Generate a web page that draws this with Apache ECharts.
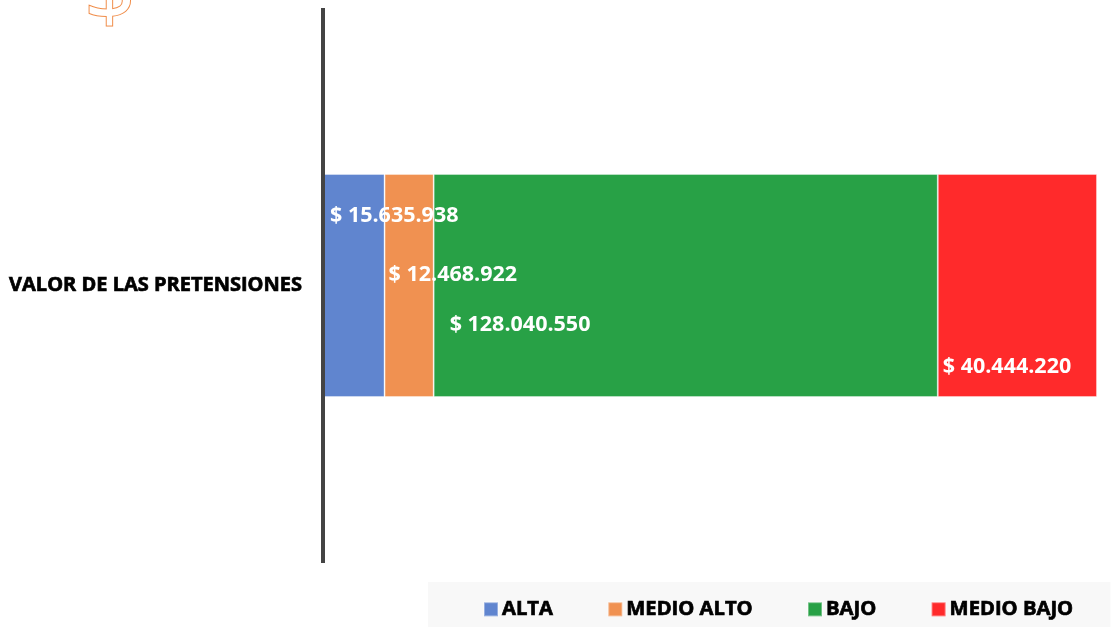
<!DOCTYPE html>
<html><head><meta charset="utf-8">
<style>html,body{margin:0;padding:0;background:#fff}#c{width:1111px;height:627px}</style>
<script src="https://cdn.jsdelivr.net/npm/echarts@6/dist/echarts.min.js"></script>
</head><body><div id="c"></div>
<script>
const categories = ["VALOR DE LAS PRETENSIONES"];
const seriesNames = ["ALTA", "MEDIO ALTO", "BAJO", "MEDIO BAJO"];
const alta = [15635938];
const medioAlto = [12468922];
const bajo = [128040550];
const medioBajo = [40444220];
const values = [alta, medioAlto, bajo, medioBajo];
const colors = ["#6085cf", "#f09151", "#28a146", "#ff2a2b"];
const labelPos = [[7, 42], [4, 101], [16, 151], [5, 193]];
const total = values.reduce((s, v) => s + v[0], 0);
const money = v => "$ " + String(v).replace(/\B(?=(\d{3})+$)/g, ".");
const chart = echarts.init(document.getElementById("c"), null, {renderer: "canvas"});
chart.setOption({
  animation: false,
  backgroundColor: "#fff",
  grid: {left: 323, top: 8, width: 774, height: 555},
  xAxis: {type: "value", min: 0, max: total, show: false},
  yAxis: {
    type: "category", data: categories,
    axisLine: {show: true, lineStyle: {color: "#444", width: 4, cap: "butt"}},
    axisTick: {show: false},
    z: 5,
    axisLabel: {margin: 21, color: "#000", fontFamily: "Open Sans", fontWeight: 700, fontSize: 20, padding: [2,0,0,0],
      textBorderColor: "#000", textBorderWidth: 0.7}
  },
  legend: {
    left: 428, top: 582,
    padding: [17, 37, 11, 55],
    backgroundColor: "#f8f8f8",
    itemWidth: 14, itemHeight: 14, itemGap: 54,
    icon: "rect",
    textStyle: {color: "#000", fontFamily: "Open Sans", fontWeight: 700, fontSize: 20.2, padding: [0,0,0,-1],
      textBorderColor: "#000", textBorderWidth: 0.7},
    data: seriesNames
  },
  graphic: [{
    type: "text", left: 83, top: -52, z: 1,
    style: {text: "$", fontSize: 90, fontFamily: "Open Sans", fontWeight: 400, fill: "#fff", stroke: "#f08a45", lineWidth: 2}
  }],
  series: seriesNames.map((n, i) => ({
    name: n, type: "bar", stack: "t", data: values[i], barWidth: 223,
    itemStyle: {color: colors[i], borderColor: "rgba(255,255,255,0.35)", borderWidth: 1},
    label: {show: true, position: labelPos[i], align: "left", verticalAlign: "middle",
      formatter: p => money(p.value), color: "#fff", fontFamily: "Open Sans", fontWeight: 700, fontSize: 21.5}
  }))
});
</script></body></html>
